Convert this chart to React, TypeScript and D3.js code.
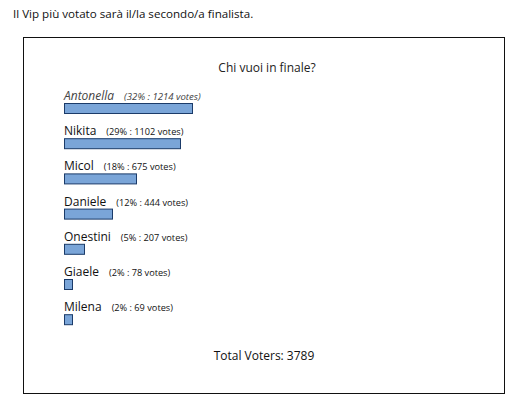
import React from "react";
import * as d3 from "d3";

const header = "Il Vip più votato sarà il/la secondo/a finalista.";
const title = "Chi vuoi in finale?";
const names = ["Antonella", "Nikita", "Micol", "Daniele", "Onestini", "Giaele", "Milena"];
const percents = [32, 29, 18, 12, 5, 2, 2];
const votes = [1214, 1102, 675, 444, 207, 78, 69];
const totalVoters = 3789;

const FONT = "'Open Sans', sans-serif";

export default function App() {
  const x = d3.scaleLinear().domain([0, 100]).range([0, 400]);
  const y = d3
    .scaleBand<number>()
    .domain(d3.range(names.length))
    .range([103, 103 + 35.2 * names.length])
    .paddingInner(0)
    .paddingOuter(0);
  const barH = 11;
  const left = 64.5;

  return (
    <svg
      width={520}
      height={412}
      style={{ position: "absolute", left: 0, top: 0, fontFamily: FONT }}
    >
      <rect x={0} y={0} width={520} height={412} fill="#fff" />
      <text x={13} y={18} fontSize={11.6} fill="#111">
        {header}
      </text>
      <rect x={23.5} y={37.5} width={481} height={356} fill="#fff" stroke="#111" strokeWidth={1} />
      <text x={267} y={72} fontSize={12} textAnchor="middle" fill="#222">
        {title}
      </text>
      {names.map((n, i) => {
        const top = y(i)!;
        const first = i === 0;
        return (
          <g key={n}>
            <text x={64} y={top - 3} fill={first ? "#444" : "#111"}>
              <tspan fontSize={12} fontStyle={first ? "italic" : "normal"}>
                {n}
              </tspan>
              <tspan dx={10} fontSize={first ? 9.6 : 9.2} fontStyle={first ? "italic" : "normal"}>
                {`(${percents[i]}% : ${votes[i]} votes)`}
              </tspan>
            </text>
            <rect
              x={left}
              y={top + 0.5}
              width={x(percents[i])}
              height={barH - 1}
              fill="#7aa5d8"
              stroke="#1b3b69"
              strokeWidth={1}
            />
          </g>
        );
      })}
      <text x={264} y={360} fontSize={12} textAnchor="middle" fill="#111">
        {`Total Voters: ${totalVoters}`}
      </text>
    </svg>
  );
}
